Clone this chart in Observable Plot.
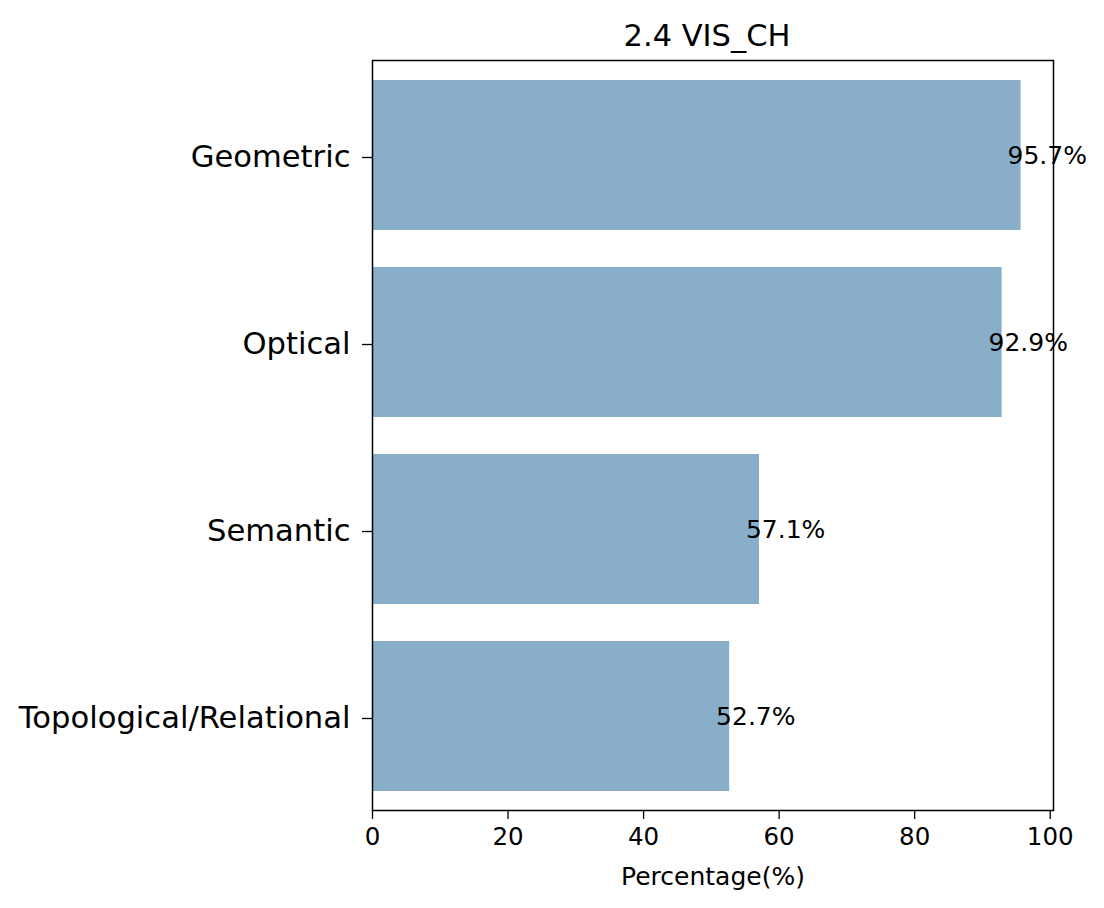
<!DOCTYPE html>
<html>
<head>
<meta charset="utf-8">
<script src="https://cdn.jsdelivr.net/npm/d3@7"></script>
<script src="https://cdn.jsdelivr.net/npm/@observablehq/plot@0.6"></script>
<style>
  html, body { margin: 0; padding: 0; background: #fff; }
  #chart svg { display: block; }
</style>
</head>
<body>
<div id="chart"></div>
<script>
const title = "2.4 VIS_CH";
const categories = ["Geometric", "Optical", "Semantic", "Topological/Relational"];
const values = [95.7, 92.9, 57.1, 52.7];
const xTicks = [0, 20, 40, 60, 80, 100];
const xLabel = "Percentage(%)";

const data = categories.map((c, i) => ({category: c, value: values[i]}));

const chart = Plot.plot({
  width: 1104,
  height: 908,
  marginLeft: 372,
  marginRight: 51,
  marginTop: 60,
  marginBottom: 98,
  style: {fontFamily: "'DejaVu Sans', sans-serif", color: "#000", background: "#fff"},
  x: {domain: [0, 95.7 * 1.05]},
  y: {domain: categories, paddingInner: 0.2, paddingOuter: 0.1},
  marks: [
    Plot.barX(data, {x: "value", y: "category", fill: "#89aec9"}),
    Plot.text(data, {
      x: d => d.value - 2,
      y: "category",
      text: d => d.value.toFixed(1) + "%",
      textAnchor: "start",
      fontSize: 25,
      fill: "#000"
    }),
    Plot.frame({stroke: "#000", strokeWidth: 1.5}),
    Plot.axisX({
      ticks: xTicks,
      tickSize: 9,
      tickPadding: 8,
      fontSize: 24.5,
      strokeWidth: 1.3,
      label: null
    }),
    Plot.axisX({
      ticks: [],
      tickSize: 0,
      fontSize: 25,
      label: xLabel,
      labelAnchor: "center",
      labelArrow: "none",
      labelOffset: 74
    }),
    Plot.axisY({
      tickSize: 10,
      tickPadding: 12,
      fontSize: 30.6,
      strokeWidth: 1.3,
      textStroke: "none",
      dy: 2,
      label: null
    }),
    Plot.text([title], {
      frameAnchor: "top",
      dy: -15,
      dx: -6,
      lineAnchor: "bottom",
      fontSize: 30.5,
      fill: "#000"
    })
  ]
});
document.getElementById("chart").appendChild(chart);
</script>
</body>
</html>
